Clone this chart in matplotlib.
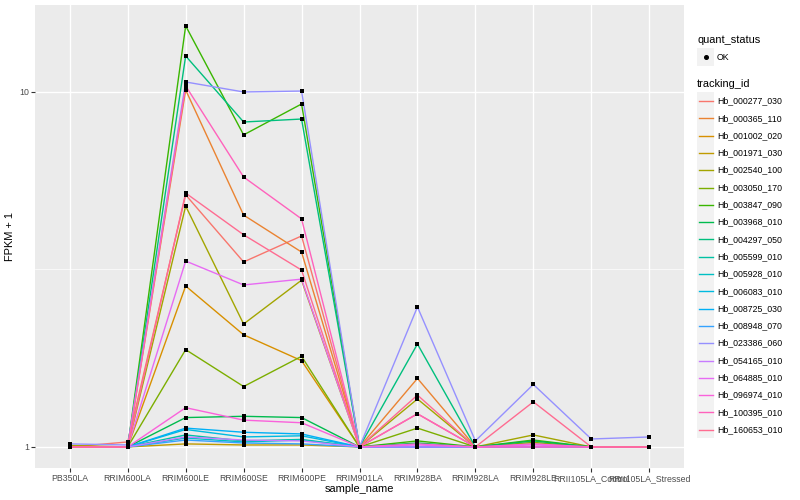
import matplotlib
matplotlib.use('Agg')
import matplotlib.pyplot as plt
from matplotlib.lines import Line2D
from matplotlib.patches import Rectangle
import numpy as np

plt.rcParams['font.family'] = ['Liberation Sans', 'DejaVu Sans']

samples = ['PB350LA', 'RRIM600LA', 'RRIM600LE', 'RRIM600SE', 'RRIM600PE',
           'RRIM901LA', 'RRIM928BA', 'RRIM928LA', 'RRIM928LE',
           'RRII105LA_Control', 'RRII105LA_Stressed']

tracking_ids = ['Hb_000277_030', 'Hb_000365_110', 'Hb_001002_020', 'Hb_001971_030',
                'Hb_002540_100', 'Hb_003050_170', 'Hb_003847_090', 'Hb_003968_010',
                'Hb_004297_050', 'Hb_005599_010', 'Hb_005928_010', 'Hb_006083_010',
                'Hb_008725_030', 'Hb_008948_070', 'Hb_023386_060', 'Hb_054165_010',
                'Hb_064885_010', 'Hb_096974_010', 'Hb_100395_010', 'Hb_160653_010']

# FPKM per gene, one value per sample (same order as samples)
fpkm = [
    [0.0, 0.033, 4.13, 2.32, 2.93, 0.0, 0.24, 0.0, 0.0, 0.0, 0.0],
    [0.0, 0.0, 9.13, 3.50, 2.54, 0.0, 0.56, 0.0, 0.02, 0.0, 0.0],
    [0.0, 0.0, 1.84, 1.07, 0.75, 0.0, 0.0, 0.0, 0.0, 0.0, 0.0],
    [0.0, 0.0, 0.02, 0.013, 0.013, 0.0, 0.0, 0.0, 0.0, 0.0, 0.0],
    [0.01, 0.0, 3.77, 1.22, 1.95, 0.0, 0.365, 0.0, 0.081, 0.0, 0.0],
    [0.0, 0.0, 0.88, 0.48, 0.80, 0.0, 0.13, 0.0, 0.03, 0.0, 0.0],
    [0.0, 0.0, 14.35, 6.57, 8.25, 0.0, 0.04, 0.0, 0.046, 0.0, 0.0],
    [0.0, 0.0, 0.21, 0.22, 0.21, 0.0, 0.026, 0.0, 0.04, 0.0, 0.0],
    [0.0, 0.0, 11.63, 7.23, 7.39, 0.0, 0.95, 0.0, 0.0, 0.0, 0.0],
    [0.0, 0.0, 0.081, 0.04, 0.05, 0.0, 0.0, 0.0, 0.0, 0.0, 0.0],
    [0.0, 0.0, 0.06, 0.033, 0.046, 0.0, 0.0, 0.0, 0.0, 0.0, 0.0],
    [0.0, 0.0, 0.12, 0.067, 0.075, 0.0, 0.0, 0.0, 0.0, 0.0, 0.0],
    [0.0, 0.0, 0.13, 0.10, 0.088, 0.0, 0.0, 0.0, 0.0, 0.0, 0.0],
    [0.0, 0.0, 0.046, 0.026, 0.02, 0.0, 0.0, 0.0, 0.0, 0.0, 0.0],
    [0.02, 0.013, 9.67, 9.0, 9.06, 0.0, 1.48, 0.04, 0.50, 0.053, 0.067],
    [0.0, 0.0, 0.067, 0.046, 0.04, 0.0, 0.0, 0.0, 0.0, 0.0, 0.0],
    [0.0, 0.0, 2.34, 1.86, 1.97, 0.0, 0.013, 0.0, 0.013, 0.0, 0.0],
    [0.0, 0.0, 0.29, 0.19, 0.17, 0.0, 0.02, 0.0, 0.02, 0.0, 0.0],
    [0.0, 0.0, 9.40, 4.76, 3.39, 0.0, 0.24, 0.0, 0.0, 0.0, 0.0],
    [0.0, 0.0, 4.19, 2.96, 2.15, 0.0, 0.40, 0.0, 0.34, 0.0, 0.0],
]

# ggplot2 default hue palette for 20 levels
colors = ['#F8766D', '#EA8331', '#D89000', '#C09B00', '#A3A500', '#7CAE00',
          '#39B600', '#00BB4E', '#00BF7D', '#00C1A3', '#00BFC4', '#00BAE0',
          '#00B0F6', '#35A2FF', '#9590FF', '#C77CFF', '#E76BF3', '#FA62DB',
          '#FF62BC', '#FF6C91']

W, H = 800, 500
fig = plt.figure(figsize=(8, 5), dpi=100)
ax = fig.add_axes([35 / W, 1 - 468 / H, (684 - 35) / W, (468 - 5) / H])
ax.set_facecolor('#EBEBEB')

x = np.arange(len(samples))
for vals, col in zip(fpkm, colors):
    ax.plot(x, np.array(vals) + 1, color=col, lw=1.0, zorder=3)
for vals in fpkm:
    ax.plot(x, np.array(vals) + 1, 's', color='black', ms=3.2, mew=0, zorder=4)

ax.set_yscale('log')
ax.set_xlim(-0.6, 10.6)
ax.set_ylim(10 ** -0.0593, 10 ** 1.245)
ax.set_yticks([1, 10])
ax.set_yticklabels(['1', '10'])
ax.set_yticks([10 ** 0.5], minor=True)
ax.yaxis.set_minor_formatter(plt.NullFormatter())
ax.set_xticks(x)
ax.set_xticklabels(samples)

ax.grid(True, which='major', color='white', lw=1.0, zorder=0)
ax.grid(True, which='minor', axis='y', color='white', lw=0.5, zorder=0)
ax.set_axisbelow(True)
for s in ax.spines.values():
    s.set_visible(False)
ax.tick_params(axis='both', which='major', length=2.7, width=0.8, color='#333333',
               labelsize=6.3, labelcolor='#4D4D4D', pad=1.5)
ax.tick_params(axis='y', which='minor', length=0)

ax.set_xlabel('sample_name', fontsize=7.9, labelpad=1)
ax.set_ylabel('FPKM + 1', fontsize=7.9, labelpad=3)

# legend drawn by hand, ggplot style
def fy(py):
    return 1 - py / H

def fx(px):
    return px / W

fig.text(fx(697), fy(40), 'quant_status', fontsize=7.9, va='center', ha='left')
fig.patches.append(Rectangle((fx(697), fy(65.5)), 17.3 / W, 17.3 / H,
                             transform=fig.transFigure, color='#F2F2F2', lw=0))
fig.lines.append(Line2D([fx(705.5)], [fy(57)], marker='o', color='black', ms=2.6,
                        transform=fig.transFigure))
fig.text(fx(717), fy(57), 'OK', fontsize=6.3, va='center', ha='left')

fig.text(fx(697), fy(84), 'tracking_id', fontsize=7.9, va='center', ha='left')
step = 17.3
for i, (tid, col) in enumerate(zip(tracking_ids, colors)):
    cy = 101 + i * step
    fig.patches.append(Rectangle((fx(697), fy(cy + step / 2)), 17.3 / W, step / H,
                                 transform=fig.transFigure, color='#F2F2F2', lw=0))
    fig.lines.append(Line2D([fx(699), fx(712.5)], [fy(cy), fy(cy)], color=col, lw=1.0,
                            transform=fig.transFigure))
    fig.text(fx(717), fy(cy), tid, fontsize=6.3, va='center', ha='left')

fig.savefig('out.png', dpi=100)
